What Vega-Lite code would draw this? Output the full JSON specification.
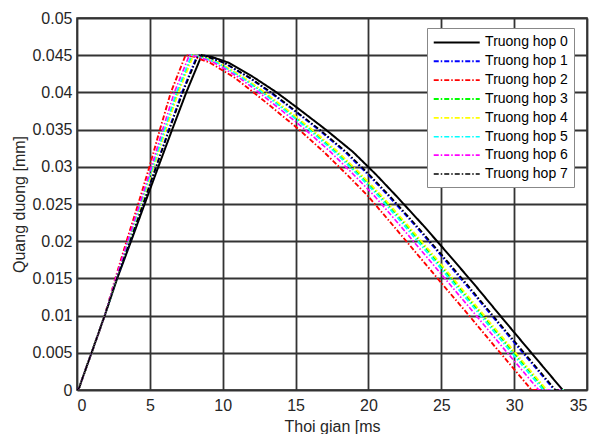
{
 "$schema": "https://vega.github.io/schema/vega-lite/v6.json",
 "width": 510, "height": 372,
 "autosize": {"type": "none"},
 "padding": {"left": 77, "top": 18, "right": 8, "bottom": 44},
 "background": "white",
 "config": {
  "font": "Liberation Sans",
  "view": {"stroke": "#262626", "strokeWidth": 1.5},
  "axis": {"grid": true, "gridColor": "#333333", "gridWidth": 1.8, "domain": false, "ticks": false,
   "labelFont": "Liberation Sans", "labelFontSize": 16, "labelColor": "#262626",
   "titleFont": "Liberation Sans", "titleFontSize": 16, "titleFontWeight": "normal", "titleColor": "#262626"}
 },
 "data": {"values": [
  {"k":"Truong hop 0","x":0,"y":0},{"k":"Truong hop 0","x":0.15,"y":0.0003},{"k":"Truong hop 0","x":0.45,"y":0.002},{"k":"Truong hop 0","x":1.0,"y":0.005},{"k":"Truong hop 0","x":1.9,"y":0.01},
  {"k":"Truong hop 0","x":2.76,"y":0.015},{"k":"Truong hop 0","x":3.71,"y":0.02},{"k":"Truong hop 0","x":4.64,"y":0.025},{"k":"Truong hop 0","x":5.58,"y":0.03},{"k":"Truong hop 0","x":6.53,"y":0.035},{"k":"Truong hop 0","x":7.5,"y":0.04},{"k":"Truong hop 0","x":8.56,"y":0.045},
  {"k":"Truong hop 0","x":9.2,"y":0.0448},{"k":"Truong hop 0","x":10.4,"y":0.044},{"k":"Truong hop 0","x":12.15,"y":0.042},{"k":"Truong hop 0","x":13.7,"y":0.04},{"k":"Truong hop 0","x":15.07,"y":0.038},{"k":"Truong hop 0","x":17.07,"y":0.035},{"k":"Truong hop 0","x":18.94,"y":0.032},{"k":"Truong hop 0","x":20.5,"y":0.029},{"k":"Truong hop 0","x":21.95,"y":0.026},{"k":"Truong hop 0","x":23.82,"y":0.022},{"k":"Truong hop 0","x":25.6,"y":0.018},{"k":"Truong hop 0","x":27.35,"y":0.014},{"k":"Truong hop 0","x":29.04,"y":0.01},{"k":"Truong hop 0","x":30.75,"y":0.006},{"k":"Truong hop 0","x":32.04,"y":0.003},{"k":"Truong hop 0","x":33.33,"y":0},

  {"k":"Truong hop 1","x":0,"y":0},{"k":"Truong hop 1","x":0.15,"y":0.0003},{"k":"Truong hop 1","x":0.45,"y":0.002},{"k":"Truong hop 1","x":1.0,"y":0.005},{"k":"Truong hop 1","x":1.9,"y":0.01},
  {"k":"Truong hop 1","x":2.72,"y":0.015},{"k":"Truong hop 1","x":3.63,"y":0.02},{"k":"Truong hop 1","x":4.52,"y":0.025},{"k":"Truong hop 1","x":5.42,"y":0.03},{"k":"Truong hop 1","x":6.30,"y":0.035},{"k":"Truong hop 1","x":7.21,"y":0.04},{"k":"Truong hop 1","x":8.26,"y":0.045},
  {"k":"Truong hop 1","x":8.88,"y":0.0448},{"k":"Truong hop 1","x":10.05,"y":0.044},{"k":"Truong hop 1","x":11.79,"y":0.042},{"k":"Truong hop 1","x":13.27,"y":0.04},{"k":"Truong hop 1","x":14.61,"y":0.038},{"k":"Truong hop 1","x":16.58,"y":0.035},{"k":"Truong hop 1","x":18.40,"y":0.032},{"k":"Truong hop 1","x":19.96,"y":0.029},{"k":"Truong hop 1","x":21.42,"y":0.026},{"k":"Truong hop 1","x":23.26,"y":0.022},{"k":"Truong hop 1","x":25.02,"y":0.018},{"k":"Truong hop 1","x":26.76,"y":0.014},{"k":"Truong hop 1","x":28.47,"y":0.01},{"k":"Truong hop 1","x":30.17,"y":0.006},{"k":"Truong hop 1","x":31.47,"y":0.003},{"k":"Truong hop 1","x":32.76,"y":0},{"k":"Truong hop 1","x":33.4,"y":0},

  {"k":"Truong hop 2","x":0,"y":0},{"k":"Truong hop 2","x":0.15,"y":0.0003},{"k":"Truong hop 2","x":0.45,"y":0.002},{"k":"Truong hop 2","x":1.0,"y":0.005},{"k":"Truong hop 2","x":1.9,"y":0.01},
  {"k":"Truong hop 2","x":2.63,"y":0.015},{"k":"Truong hop 2","x":3.40,"y":0.02},{"k":"Truong hop 2","x":4.20,"y":0.025},{"k":"Truong hop 2","x":4.97,"y":0.03},{"k":"Truong hop 2","x":5.69,"y":0.035},{"k":"Truong hop 2","x":6.44,"y":0.04},{"k":"Truong hop 2","x":7.45,"y":0.045},
  {"k":"Truong hop 2","x":8.0,"y":0.0448},{"k":"Truong hop 2","x":9.12,"y":0.044},{"k":"Truong hop 2","x":10.8,"y":0.042},{"k":"Truong hop 2","x":12.12,"y":0.04},{"k":"Truong hop 2","x":13.38,"y":0.038},{"k":"Truong hop 2","x":15.24,"y":0.035},{"k":"Truong hop 2","x":16.94,"y":0.032},{"k":"Truong hop 2","x":18.5,"y":0.029},{"k":"Truong hop 2","x":20.0,"y":0.026},{"k":"Truong hop 2","x":21.74,"y":0.022},{"k":"Truong hop 2","x":23.46,"y":0.018},{"k":"Truong hop 2","x":25.17,"y":0.014},{"k":"Truong hop 2","x":26.91,"y":0.01},{"k":"Truong hop 2","x":28.61,"y":0.006},{"k":"Truong hop 2","x":29.91,"y":0.003},{"k":"Truong hop 2","x":31.2,"y":0},{"k":"Truong hop 2","x":33.4,"y":0},

  {"k":"Truong hop 3","x":0,"y":0},{"k":"Truong hop 3","x":0.15,"y":0.0003},{"k":"Truong hop 3","x":0.45,"y":0.002},{"k":"Truong hop 3","x":1.0,"y":0.005},{"k":"Truong hop 3","x":1.9,"y":0.01},
  {"k":"Truong hop 3","x":2.69,"y":0.015},{"k":"Truong hop 3","x":3.54,"y":0.02},{"k":"Truong hop 3","x":4.39,"y":0.025},{"k":"Truong hop 3","x":5.24,"y":0.03},{"k":"Truong hop 3","x":6.06,"y":0.035},{"k":"Truong hop 3","x":6.91,"y":0.04},{"k":"Truong hop 3","x":7.94,"y":0.045},
  {"k":"Truong hop 3","x":8.53,"y":0.0448},{"k":"Truong hop 3","x":9.68,"y":0.044},{"k":"Truong hop 3","x":11.39,"y":0.042},{"k":"Truong hop 3","x":12.82,"y":0.04},{"k":"Truong hop 3","x":14.12,"y":0.038},{"k":"Truong hop 3","x":16.05,"y":0.035},{"k":"Truong hop 3","x":17.82,"y":0.032},{"k":"Truong hop 3","x":19.38,"y":0.029},{"k":"Truong hop 3","x":20.86,"y":0.026},{"k":"Truong hop 3","x":22.66,"y":0.022},{"k":"Truong hop 3","x":24.40,"y":0.018},{"k":"Truong hop 3","x":26.13,"y":0.014},{"k":"Truong hop 3","x":27.85,"y":0.01},{"k":"Truong hop 3","x":29.55,"y":0.006},{"k":"Truong hop 3","x":30.85,"y":0.003},{"k":"Truong hop 3","x":32.14,"y":0},{"k":"Truong hop 3","x":33.4,"y":0},

  {"k":"Truong hop 4","x":0,"y":0},{"k":"Truong hop 4","x":0.15,"y":0.0003},{"k":"Truong hop 4","x":0.45,"y":0.002},{"k":"Truong hop 4","x":1.0,"y":0.005},{"k":"Truong hop 4","x":1.9,"y":0.01},
  {"k":"Truong hop 4","x":2.69,"y":0.015},{"k":"Truong hop 4","x":3.55,"y":0.02},{"k":"Truong hop 4","x":4.42,"y":0.025},{"k":"Truong hop 4","x":5.27,"y":0.03},{"k":"Truong hop 4","x":6.10,"y":0.035},{"k":"Truong hop 4","x":6.96,"y":0.04},{"k":"Truong hop 4","x":7.99,"y":0.045},
  {"k":"Truong hop 4","x":8.59,"y":0.0448},{"k":"Truong hop 4","x":9.75,"y":0.044},{"k":"Truong hop 4","x":11.46,"y":0.042},{"k":"Truong hop 4","x":12.89,"y":0.04},{"k":"Truong hop 4","x":14.21,"y":0.038},{"k":"Truong hop 4","x":16.14,"y":0.035},{"k":"Truong hop 4","x":17.92,"y":0.032},{"k":"Truong hop 4","x":19.48,"y":0.029},{"k":"Truong hop 4","x":20.96,"y":0.026},{"k":"Truong hop 4","x":22.76,"y":0.022},{"k":"Truong hop 4","x":24.51,"y":0.018},{"k":"Truong hop 4","x":26.24,"y":0.014},{"k":"Truong hop 4","x":27.95,"y":0.01},{"k":"Truong hop 4","x":29.66,"y":0.006},{"k":"Truong hop 4","x":30.95,"y":0.003},{"k":"Truong hop 4","x":32.24,"y":0},{"k":"Truong hop 4","x":33.4,"y":0},

  {"k":"Truong hop 5","x":0,"y":0},{"k":"Truong hop 5","x":0.15,"y":0.0003},{"k":"Truong hop 5","x":0.45,"y":0.002},{"k":"Truong hop 5","x":1.0,"y":0.005},{"k":"Truong hop 5","x":1.9,"y":0.01},
  {"k":"Truong hop 5","x":2.68,"y":0.015},{"k":"Truong hop 5","x":3.52,"y":0.02},{"k":"Truong hop 5","x":4.36,"y":0.025},{"k":"Truong hop 5","x":5.20,"y":0.03},{"k":"Truong hop 5","x":6.00,"y":0.035},{"k":"Truong hop 5","x":6.83,"y":0.04},{"k":"Truong hop 5","x":7.86,"y":0.045},
  {"k":"Truong hop 5","x":8.44,"y":0.0448},{"k":"Truong hop 5","x":9.59,"y":0.044},{"k":"Truong hop 5","x":11.30,"y":0.042},{"k":"Truong hop 5","x":12.71,"y":0.04},{"k":"Truong hop 5","x":14.01,"y":0.038},{"k":"Truong hop 5","x":15.92,"y":0.035},{"k":"Truong hop 5","x":17.68,"y":0.032},{"k":"Truong hop 5","x":19.24,"y":0.029},{"k":"Truong hop 5","x":20.72,"y":0.026},{"k":"Truong hop 5","x":22.51,"y":0.022},{"k":"Truong hop 5","x":24.25,"y":0.018},{"k":"Truong hop 5","x":25.98,"y":0.014},{"k":"Truong hop 5","x":27.70,"y":0.01},{"k":"Truong hop 5","x":29.40,"y":0.006},{"k":"Truong hop 5","x":30.70,"y":0.003},{"k":"Truong hop 5","x":31.99,"y":0},{"k":"Truong hop 5","x":33.4,"y":0},

  {"k":"Truong hop 6","x":0,"y":0},{"k":"Truong hop 6","x":0.15,"y":0.0003},{"k":"Truong hop 6","x":0.45,"y":0.002},{"k":"Truong hop 6","x":1.0,"y":0.005},{"k":"Truong hop 6","x":1.9,"y":0.01},
  {"k":"Truong hop 6","x":2.66,"y":0.015},{"k":"Truong hop 6","x":3.47,"y":0.02},{"k":"Truong hop 6","x":4.30,"y":0.025},{"k":"Truong hop 6","x":5.11,"y":0.03},{"k":"Truong hop 6","x":5.88,"y":0.035},{"k":"Truong hop 6","x":6.68,"y":0.04},{"k":"Truong hop 6","x":7.71,"y":0.045},
  {"k":"Truong hop 6","x":8.28,"y":0.0448},{"k":"Truong hop 6","x":9.41,"y":0.044},{"k":"Truong hop 6","x":11.11,"y":0.042},{"k":"Truong hop 6","x":12.48,"y":0.04},{"k":"Truong hop 6","x":13.77,"y":0.038},{"k":"Truong hop 6","x":15.67,"y":0.035},{"k":"Truong hop 6","x":17.40,"y":0.032},{"k":"Truong hop 6","x":18.96,"y":0.029},{"k":"Truong hop 6","x":20.45,"y":0.026},{"k":"Truong hop 6","x":22.22,"y":0.022},{"k":"Truong hop 6","x":23.95,"y":0.018},{"k":"Truong hop 6","x":25.67,"y":0.014},{"k":"Truong hop 6","x":27.40,"y":0.01},{"k":"Truong hop 6","x":29.10,"y":0.006},{"k":"Truong hop 6","x":30.40,"y":0.003},{"k":"Truong hop 6","x":31.69,"y":0},{"k":"Truong hop 6","x":33.4,"y":0},

  {"k":"Truong hop 7","x":0,"y":0},{"k":"Truong hop 7","x":0.15,"y":0.0003},{"k":"Truong hop 7","x":0.45,"y":0.002},{"k":"Truong hop 7","x":1.0,"y":0.005},{"k":"Truong hop 7","x":1.9,"y":0.01},
  {"k":"Truong hop 7","x":2.73,"y":0.015},{"k":"Truong hop 7","x":3.64,"y":0.02},{"k":"Truong hop 7","x":4.54,"y":0.025},{"k":"Truong hop 7","x":5.44,"y":0.03},{"k":"Truong hop 7","x":6.34,"y":0.035},{"k":"Truong hop 7","x":7.26,"y":0.04},{"k":"Truong hop 7","x":8.31,"y":0.045},
  {"k":"Truong hop 7","x":8.92,"y":0.0448},{"k":"Truong hop 7","x":10.11,"y":0.044},{"k":"Truong hop 7","x":11.84,"y":0.042},{"k":"Truong hop 7","x":13.34,"y":0.04},{"k":"Truong hop 7","x":14.68,"y":0.038},{"k":"Truong hop 7","x":16.65,"y":0.035},{"k":"Truong hop 7","x":18.48,"y":0.032},{"k":"Truong hop 7","x":20.04,"y":0.029},{"k":"Truong hop 7","x":21.50,"y":0.026},{"k":"Truong hop 7","x":23.34,"y":0.022},{"k":"Truong hop 7","x":25.11,"y":0.018},{"k":"Truong hop 7","x":26.85,"y":0.014},{"k":"Truong hop 7","x":28.55,"y":0.01},{"k":"Truong hop 7","x":30.26,"y":0.006},{"k":"Truong hop 7","x":31.55,"y":0.003},{"k":"Truong hop 7","x":32.84,"y":0},{"k":"Truong hop 7","x":33.4,"y":0}
 ]},
 "mark": {"type": "line", "clip": true},
 "encoding": {
  "x": {"field": "x", "type": "quantitative", "scale": {"domain": [0, 35], "nice": false},
   "axis": {"values": [0, 5, 10, 15, 20, 25, 30, 35], "title": "Thoi gian [ms", "labelPadding": 7, "titlePadding": 5}},
  "y": {"field": "y", "type": "quantitative", "scale": {"domain": [0, 0.05], "nice": false},
   "axis": {"values": [0, 0.005, 0.01, 0.015, 0.02, 0.025, 0.03, 0.035, 0.04, 0.045, 0.05], "format": "~g", "title": "Quang duong [mm]", "labelPadding": 5, "titlePadding": 4}},
  "color": {"field": "k", "type": "nominal", "title": null,
   "scale": {"domain": ["Truong hop 0","Truong hop 1","Truong hop 2","Truong hop 3","Truong hop 4","Truong hop 5","Truong hop 6","Truong hop 7"],
    "range": ["#000000","#0000ff","#ff0000","#00ff00","#ffff00","#00ffff","#ff00ff","#000000"]},
   "legend": {"orient": "none", "legendX": 350, "legendY": 10, "symbolType": "M-1,0H5", "symbolSize": 235,
    "symbolStrokeWidth": 1.6, "labelFont": "Liberation Sans", "labelFontSize": 14, "labelColor": "#000000",
    "labelOffset": 34.7, "rowPadding": 2.87, "padding": 5.4, "strokeColor": "#888888", "fillColor": "white"}},
  "strokeDash": {"field": "k", "type": "nominal", "title": null,
   "scale": {"domain": ["Truong hop 0","Truong hop 1","Truong hop 2","Truong hop 3","Truong hop 4","Truong hop 5","Truong hop 6","Truong hop 7"],
    "range": [[1,0],[5,2,1.5,2],[5,2,1.5,2],[5,2,1.5,2],[5,2,1.5,2],[5,2,1.5,2],[5,2,1.5,2],[5,2,1.5,2]]}},
  "strokeWidth": {"field": "k", "type": "nominal", "legend": null,
   "scale": {"domain": ["Truong hop 0","Truong hop 1","Truong hop 2","Truong hop 3","Truong hop 4","Truong hop 5","Truong hop 6","Truong hop 7"],
    "range": [2, 1.6, 1.6, 1.6, 1.6, 1.6, 1.6, 1.6]}}
 }
}
